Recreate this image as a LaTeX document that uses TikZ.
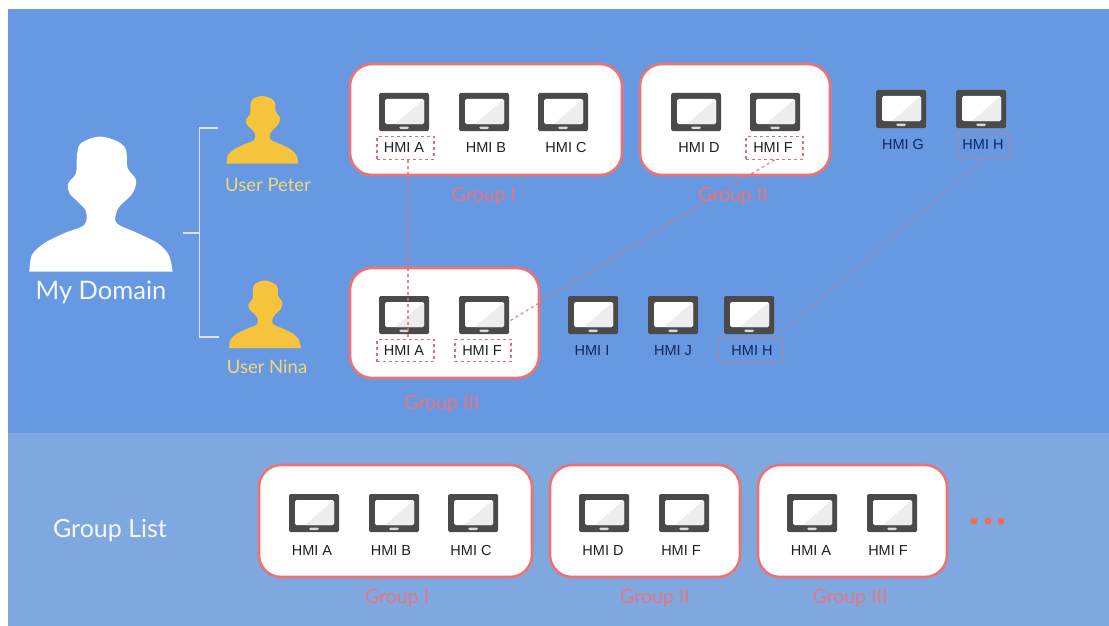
\documentclass[tikz,border=0pt]{standalone}
\usepackage{fontspec}
\setmainfont{Liberation Sans}
\newfontfamily\lato{Lato}
\usetikzlibrary{calc}
\definecolor{upperblue}{HTML}{6699E2}
\definecolor{lowerblue}{HTML}{7FA8E0}
\definecolor{cardred}{HTML}{EE7273}
\definecolor{grouptxt}{HTML}{E8757F}
\definecolor{gold}{HTML}{F6C43C}
\definecolor{goldtxt}{HTML}{F0D878}
\definecolor{bracket}{HTML}{D8E6F8}
\definecolor{frameC}{HTML}{4A4A4A}
\definecolor{navy}{HTML}{14265A}
\definecolor{dashred}{HTML}{E66A70}
\definecolor{dotred}{HTML}{F36B52}
\tikzset{
  card/.style={draw=cardred,line width=2.6pt,fill=white,rounded corners=22pt},
  monitor/.style={rectangle,fill=frameC,rounded corners=1.5pt,minimum width=50pt,minimum height=38pt,inner sep=0pt,
    path picture={
      \fill[white] ($(path picture bounding box.south west)+(6,-7)$) rectangle ($(path picture bounding box.north east)+(-5,6)$);
      \fill[black!7] ($(path picture bounding box.south west)+(16,-7)$) -- ($(path picture bounding box.north east)+(-5,6)$) -- ($(path picture bounding box.south east)+(-5,-7)$) -- cycle;
      \fill[white!85!black] ($(path picture bounding box.south)+(-5,-2)$) rectangle ($(path picture bounding box.south)+(5,-4.5)$);
    }},
  hmi/.style={font=\fontsize{14.5pt}{15pt}\selectfont,text=black!88,inner sep=0pt,anchor=center,yshift=-1pt},
  hminavy/.style={hmi,text=navy},
  dashbox/.style={draw=dashred,line width=1.2pt,dash pattern=on 3pt off 3pt,inner sep=0pt,minimum width=57pt,minimum height=22.5pt},
  softbox/.style={draw=cardred!55!upperblue,line width=1pt,rounded corners=2pt,inner sep=0pt},
  link/.style={draw=dashred,line width=1.3pt,dash pattern=on 3pt off 3pt,draw opacity=.8},
  softlink/.style={draw=cardred!55!upperblue,line width=1pt,dash pattern=on 2pt off 2pt},
  grouplabel/.style={font=\fontsize{19.5pt}{21pt}\selectfont\lato,text=grouptxt,inner sep=0pt},
  userlabel/.style={font=\fontsize{18.5pt}{20pt}\selectfont\lato,text=goldtxt,inner sep=0pt},
  titlelabel/.style={font=\fontsize{25.5pt}{27pt}\selectfont\lato,text=white!92!upperblue,inner sep=0pt},
  brk/.style={draw=bracket,line width=1.6pt},
  dotmark/.style={circle,fill=dotred,minimum size=7pt,inner sep=0pt},
  personshape/.pic={
    \fill plot[smooth,tension=.55] coordinates {(-215,0)(-207,50)(-170,85)(-110,115)(-50,140)(-45,180)(-65,205)(-95,235)(-98,265)(-75,295)(-72,350)(-60,385)(-5,405)(50,390)(75,365)(80,310)(105,275)(95,235)(60,200)(47,180)(47,145)(110,115)(170,85)(203,50)(215,0)} -- cycle;
  }
}
\begin{document}
\begin{tikzpicture}[x=1pt,y=-1pt]
\useasboundingbox (0,0) rectangle (1109,626);
\fill[white] (0,0) rectangle (1109,626);
\fill[upperblue] (8,9) rectangle (1109,433);
\fill[lowerblue] (8,433) rectangle (1109,626);

% persons
\begin{scope}[shift={(101,271.5)},x=0.3333pt,y=0.3333pt]
  \pic[fill=white] {personshape};
\end{scope}
\begin{scope}[shift={(262.5,163.5)},x=0.1667pt,y=0.1667pt]
  \pic[fill=gold] {personshape};
\end{scope}
\begin{scope}[shift={(265,348)},x=0.1667pt,y=0.1667pt]
  \pic[fill=gold] {personshape};
\end{scope}

% bracket
\coordinate (bTop) at (218,128);
\coordinate (bBot) at (219,337);
\coordinate (bMid) at (183,233);
\draw[brk] (bTop) -- (199.5,128) -- (199.5,337) -- (bBot);
\draw[brk] (bMid) -- (199.5,233);

\node[titlelabel] (domain) at (101,292) {My Domain};
\node[userlabel] (peter) at (268,185) {User Peter};
\node[userlabel] (nina) at (267,367) {User Nina};
\node[font=\fontsize{25pt}{27pt}\selectfont\lato,text=white!92!lowerblue,inner sep=0pt] (glist) at (110,531) {Group List};

% cards
\draw[card] (350,64) rectangle (622,175);
\draw[card] (640,64) rectangle (830,175);
\draw[card] (350,268) rectangle (539,378);
\draw[card] (259,465) rectangle (532,577);
\draw[card] (550,465) rectangle (740,577);
\draw[card] (758,465) rectangle (947,577);

% monitors: top row
\node[monitor] (m1) at (404,112) {};
\node[monitor] (m2) at (484,112) {};
\node[monitor] (m3) at (563,112) {};
\node[monitor] (m4) at (696,112) {};
\node[monitor] (m5) at (775,112) {};
\node[monitor] (m6) at (901,109) {};
\node[monitor] (m7) at (981,109) {};
% monitors: middle row
\node[monitor] (m8) at (404,315) {};
\node[monitor] (m9) at (484,315) {};
\node[monitor] (m10) at (593,315) {};
\node[monitor] (m11) at (673,315) {};
\node[monitor] (m12) at (749,315) {};
% monitors: bottom row
\node[monitor] (m13) at (314,513) {};
\node[monitor] (m14) at (394,513) {};
\node[monitor] (m15) at (473,513) {};
\node[monitor] (m16) at (604,513) {};
\node[monitor] (m17) at (684,513) {};
\node[monitor] (m18) at (812,513) {};
\node[monitor] (m19) at (892,513) {};

% labels
\node[hmi] (t1) at (404,147) {HMI A};
\node[hmi] (t2) at (486,147) {HMI B};
\node[hmi] (t3) at (566,147) {HMI C};
\node[hmi] (t4) at (699,147) {HMI D};
\node[hmi] (t5) at (773,147) {HMI F};
\node[hminavy] (t6) at (903,144) {HMI G};
\node[hminavy] (t7) at (983,144) {HMI H};
\node[hmi] (t8) at (404,350) {HMI A};
\node[hmi] (t9) at (482,350) {HMI F};
\node[hminavy] (t10) at (592,350) {HMI I};
\node[hminavy] (t11) at (673,350) {HMI J};
\node[hminavy] (t12) at (752,350) {HMI H};
\node[hmi] (t13) at (312,550) {HMI A};
\node[hmi] (t14) at (391,550) {HMI B};
\node[hmi] (t15) at (471,550) {HMI C};
\node[hmi] (t16) at (603,550) {HMI D};
\node[hmi] (t17) at (681,550) {HMI F};
\node[hmi] (t18) at (811,550) {HMI A};
\node[hmi] (t19) at (888,550) {HMI F};

% highlight boxes
\node[dashbox] (bA1) at (405.5,148) {};
\node[dashbox] (bF1) at (774.5,148) {};
\node[dashbox] (bA2) at (405.5,350.5) {};
\node[dashbox,minimum width=56pt] (bF2) at (483,350.5) {};
\node[softbox,minimum width=53pt,minimum height=25pt] (bH1) at (983.5,145.5) {};
\node[softbox,minimum width=65pt,minimum height=24pt] (bH2) at (750.5,350) {};

% links
\coordinate (aTop) at ([xshift=2.5pt]bA1.south);
\coordinate (aBot) at ([xshift=2.5pt]bA2.north);
\coordinate (fEnd) at (508,322);
\coordinate (hEnd) at (775,338);
\draw[link] (aTop) -- (aBot);
\draw[link] (bF1.south) -- (fEnd);
\draw[softlink] (bH1.south) -- (hEnd);

% group labels
\node[grouplabel] (g1) at (484,196) {Group I};
\node[grouplabel] (g2) at (733,196) {Group II};
\node[grouplabel] (g3) at (442,404) {Group III};
\node[grouplabel] (g4) at (397,598) {Group I};
\node[grouplabel] (g5) at (655,598) {Group II};
\node[grouplabel] (g6) at (850,598) {Group III};

% dots
\node[dotmark] (d1) at (974,521) {};
\node[dotmark] (d2) at (988,521) {};
\node[dotmark] (d3) at (1001,521) {};
\end{tikzpicture}
\end{document}
